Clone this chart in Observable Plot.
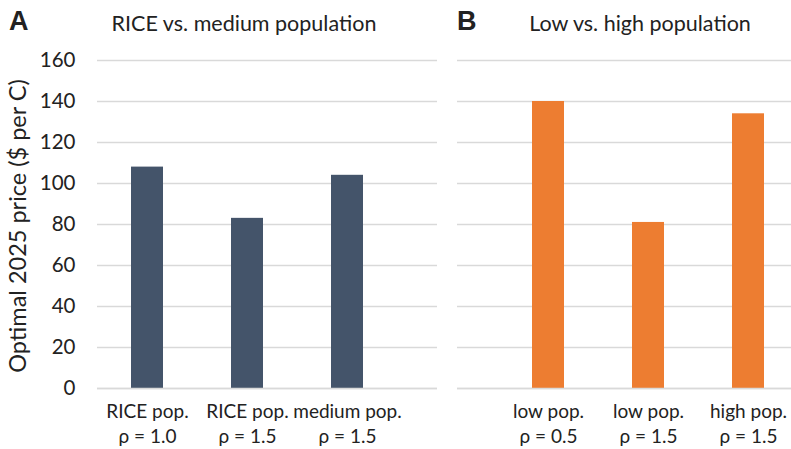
<!DOCTYPE html>
<html>
<head>
<meta charset="utf-8">
<script src="https://cdn.jsdelivr.net/npm/d3@7"></script>
<script src="https://cdn.jsdelivr.net/npm/@observablehq/plot@0.6"></script>
<style>
  html, body { margin: 0; padding: 0; background: #fff; }
  #wrap { position: relative; width: 791px; height: 449px; overflow: hidden; font-family: Lato, "Open Sans", sans-serif; color: #222; }
  .panel { position: absolute; top: 0; }
  .tag { position: absolute; font-family: "Liberation Sans", Arial, sans-serif; font-weight: bold; font-size: 27px; color: #222; line-height: 1; }
  .title { position: absolute; font-size: 21.5px; color: #222; line-height: 1; white-space: nowrap; transform: translateX(-50%); }
  .ylab { position: absolute; font-size: 23.5px; color: #222; white-space: nowrap; line-height: 1; transform: translate(-50%, -50%) rotate(-90deg); }
</style>
</head>
<body>
<div id="wrap">
  <div class="tag" style="left:9px; top:8px;">A</div>
  <div class="title" style="left:244px; top:13px;">RICE vs. medium population</div>
  <div class="tag" style="left:457px; top:8px;">B</div>
  <div class="title" style="left:640px; top:13px;">Low vs. high population</div>
  <div class="ylab" style="left:18px; top:226px;">Optimal 2025 price ($ per C)</div>
  <div class="panel" id="pA" style="left:0px;"></div>
  <div class="panel" id="pB" style="left:440px;"></div>
</div>
<script>
const yTicks = [0, 20, 40, 60, 80, 100, 120, 140, 160];

const categoriesA = ["RICE pop.\nρ = 1.0", "RICE pop.\nρ = 1.5", "medium pop.\nρ = 1.5"];
const valuesA = [108, 83, 104];

const categoriesB = ["low pop.\nρ = 0.5", "low pop.\nρ = 1.5", "high pop.\nρ = 1.5"];
const valuesB = [140, 81, 134];

const colorA = "#44546A";
const colorB = "#ED7D31";
const gridColor = "#d9d9d9";
const textColor = "#222";

function panel(cats, vals, color, opts) {
  const data = cats.map((c, i) => ({cat: c, value: vals[i]}));
  return Plot.plot({
    width: opts.width,
    height: 449,
    marginLeft: opts.marginLeft,
    marginRight: opts.marginRight,
    marginTop: 60,
    marginBottom: 61,
    style: {fontFamily: "Lato, 'Open Sans', sans-serif", color: textColor, background: "transparent"},
    x: {domain: cats, paddingInner: 0.68, paddingOuter: opts.paddingOuter, align: opts.align, axis: null},
    y: {domain: [0, 160], ticks: yTicks, axis: null},
    marks: [
      Plot.gridY(yTicks, {stroke: gridColor, strokeOpacity: 1, strokeWidth: 1.5}),
      Plot.barY(data, {x: "cat", y: "value", fill: color}),
      Plot.ruleY([0], {stroke: gridColor, strokeWidth: 1.5}),
      Plot.axisX({tickSize: 0, tickPadding: 12, fontSize: 19, lineHeight: 1.32, label: null}),
      opts.yAxis ? Plot.axisY(yTicks, {tickSize: 0, tickPadding: 22, fontSize: 20.5, label: null}) : null
    ]
  });
}

document.getElementById("pA").appendChild(panel(categoriesA, valuesA, colorA, {width: 440, marginLeft: 97, marginRight: 3, paddingOuter: 0.54, align: 0.315, yAxis: true}));
document.getElementById("pB").appendChild(panel(categoriesB, valuesB, colorB, {width: 351, marginLeft: 17, marginRight: 0, paddingOuter: 0.51, align: 0.735, yAxis: false}));
</script>
</body>
</html>
